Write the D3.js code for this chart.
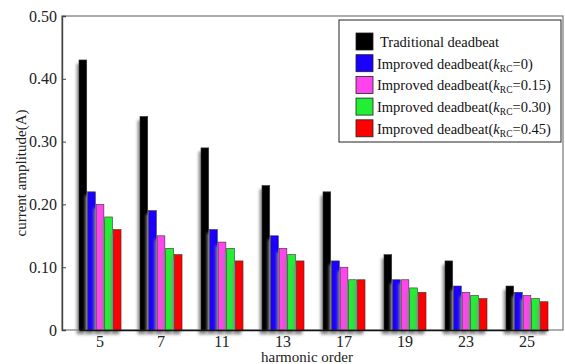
<!DOCTYPE html>
<meta charset='utf-8'>
<title>Harmonic amplitudes</title>
<style>
body {
  margin: 0;
  background-color: #fff;
}
svg text {
  font-family: "Liberation Serif", "DejaVu Serif", serif;
}
</style>
<svg width="565" height="364" font-family="Liberation Serif">
  <defs>
    <filter id="shadow" x="-80%" y="-10%" width="220%" height="130%">
      <feGaussianBlur in="SourceAlpha" stdDeviation="1.6"></feGaussianBlur>
      <feOffset dx="-2.5" dy="3.5" result="blur"></feOffset>
      <feFlood flood-color="#8a8a8a"></feFlood>
      <feComposite in2="blur" operator="in"></feComposite>
      <feMerge>
        <feMergeNode></feMergeNode>
        <feMergeNode in="SourceGraphic"></feMergeNode>
      </feMerge>
    </filter>
  </defs>
</svg>
<script src="https://d3js.org/d3.v7.min.js"></script>
<script>

// harmonic orders on the x axis
var orders = ["5", "7", "11", "13", "17", "19", "23", "25"];

// one array per controller
var traditional = [0.43, 0.34, 0.29, 0.23, 0.22, 0.12, 0.11, 0.07];
var krc000 = [0.22, 0.19, 0.16, 0.15, 0.11, 0.08, 0.07, 0.06];
var krc015 = [0.20, 0.15, 0.14, 0.13, 0.10, 0.08, 0.06, 0.055];
var krc030 = [0.18, 0.13, 0.13, 0.12, 0.08, 0.067, 0.055, 0.05];
var krc045 = [0.16, 0.12, 0.11, 0.11, 0.08, 0.06, 0.05, 0.045];

var yTicks = [0, 0.1, 0.2, 0.3, 0.4, 0.5];

var series = [
  { name: "Traditional deadbeat", k: null, color: "#000000", values: traditional },
  { name: "Improved deadbeat(", k: "0", color: "#1a00ff", values: krc000 },
  { name: "Improved deadbeat(", k: "0.15", color: "#ff44ee", values: krc015 },
  { name: "Improved deadbeat(", k: "0.30", color: "#22ee33", values: krc030 },
  { name: "Improved deadbeat(", k: "0.45", color: "#ff0000", values: krc045 }
];

var svg = d3.select("svg");

var margin = { top: 16, right: 2, bottom: 34, left: 62 },
    width = 565 - margin.left - margin.right,
    height = 364 - margin.top - margin.bottom;

var g = svg.append("g")
    .attr("transform", "translate(" + margin.left + "," + margin.top + ")");

var x0 = d3.scaleBand()
    .domain(orders)
    .range([17, 486])
    .paddingInner(0.311)
    .paddingOuter(0);

var x1 = d3.scaleBand()
    .domain(d3.range(series.length))
    .range([0, x0.bandwidth()])
    .paddingInner(0.1);

var y = d3.scaleLinear()
    .domain([0, 0.5])
    .range([height, 0]);

// frame
g.append("rect")
    .attr("width", width)
    .attr("height", height)
    .attr("fill", "none")
    .attr("stroke", "#777")
    .attr("stroke-width", 1.2);

// bars
var groups = g.selectAll("g.group")
    .data(orders)
  .enter().append("g")
    .attr("class", "group")
    .attr("transform", function(d) { return "translate(" + x0(d) + ",0)"; });

groups.selectAll("rect")
    .data(function(d, i) { return series.map(function(s, j) { return { j: j, v: s.values[i], color: s.color }; }); })
  .enter().append("rect")
    .attr("x", function(d) { return x1(d.j); })
    .attr("width", x1.bandwidth())
    .attr("y", function(d) { return y(d.v); })
    .attr("height", function(d) { return height - y(d.v); })
    .attr("fill", function(d) { return d.color; })
    .attr("stroke", "#333")
    .attr("stroke-width", 0.6)
    .attr("filter", "url(#shadow)");

// y axis
var yAxis = d3.axisRight(y)
    .tickValues(yTicks)
    .tickSize(4)
    .tickFormat(function(d) { return d === 0 ? "0" : d3.format(".2f")(d); });

var ya = g.append("g").call(yAxis);
ya.attr("font-family", null).attr("font-size", null);
ya.select(".domain").attr("stroke", "#444").attr("stroke-width", 1.4);
ya.selectAll(".tick line").attr("stroke", "#444");
ya.selectAll(".tick text")
    .attr("x", -5)
    .attr("text-anchor", "end")
    .attr("fill", "#222")
    .attr("font-size", 16);

// x axis
var xAxis = d3.axisBottom(x0).tickSize(0).tickPadding(6);
var xa = g.append("g")
    .attr("transform", "translate(0," + height + ")")
    .call(xAxis);
xa.attr("font-family", null).attr("font-size", null);
xa.select(".domain").attr("stroke", "#111").attr("stroke-width", 1.4);
xa.selectAll(".tick text")
    .attr("fill", "#222")
    .attr("font-size", 16);

// axis titles
svg.append("text")
    .attr("x", 307)
    .attr("y", 362)
    .attr("text-anchor", "middle")
    .attr("font-size", 15)
    .attr("fill", "#222")
    .text("harmonic order");

svg.append("text")
    .attr("transform", "translate(26," + (margin.top + height / 2) + ") rotate(-90)")
    .attr("text-anchor", "middle")
    .attr("font-size", 15)
    .attr("fill", "#222")
    .text("current amplitude(A)");

// legend
var legend = svg.append("g")
    .attr("transform", "translate(339,20)");

legend.append("rect")
    .attr("width", 222)
    .attr("height", 122)
    .attr("fill", "#fff")
    .attr("stroke", "#222")
    .attr("stroke-width", 1);

var items = legend.selectAll("g.item")
    .data(series)
  .enter().append("g")
    .attr("class", "item")
    .attr("transform", function(d, i) { return "translate(0," + (22 + i * 21.7) + ")"; });

items.append("rect")
    .attr("x", 17)
    .attr("y", -9)
    .attr("width", 17)
    .attr("height", 17)
    .attr("fill", function(d) { return d.color; })
    .attr("stroke", "#222")
    .attr("stroke-width", 0.8);

var labels = items.append("text")
    .attr("x", function(d, i) { return i === 0 ? 41 : 38; })
    .attr("y", 5)
    .attr("font-size", 14.5)
    .attr("fill", "#111");

labels.each(function(d) {
  var t = d3.select(this);
  t.append("tspan").text(d.name);
  if (d.k !== null) {
    t.append("tspan").attr("font-style", "italic").text("k");
    t.append("tspan").attr("font-size", 9.5).attr("dy", 3).text("RC");
    t.append("tspan").attr("dy", -3).text("=" + d.k + ")");
  }
});

</script>
